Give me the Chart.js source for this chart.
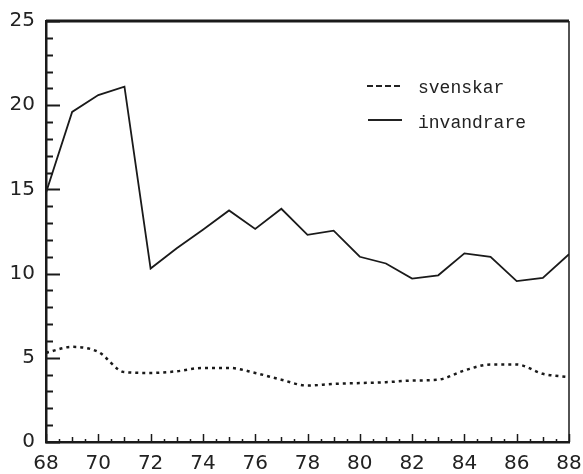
<!DOCTYPE html>
<html>
<head>
<meta charset="utf-8">
<script src="https://cdn.jsdelivr.net/npm/chart.js@4/dist/chart.umd.min.js"></script>
<style>
  html,body{margin:0;padding:0;background:#fff;}
  #wrap{position:relative;width:583px;height:474px;}
  .leg{position:absolute;left:418px;font:18px "Liberation Mono",monospace;line-height:18px;color:#222;white-space:nowrap;}
  .sym{position:absolute;height:0;}
</style>
</head>
<body>
<div id="wrap">
  <canvas id="c" width="583" height="474"></canvas>
  <div class="sym" style="left:367px;top:85px;width:33px;border-top:2.5px dashed #222;"></div>
  <div class="leg" style="top:79px;">svenskar</div>
  <div class="sym" style="left:368px;top:119px;width:34px;border-top:2px solid #222;"></div>
  <div class="leg" style="top:114px;">invandrare</div>
</div>
<script>
const years = [68,69,70,71,72,73,74,75,76,77,78,79,80,81,82,83,84,85,86,87,88];
const svenskar = [5.3,5.65,5.35,4.15,4.1,4.2,4.4,4.4,4.1,3.7,3.35,3.45,3.5,3.55,3.65,3.7,4.25,4.6,4.6,4.05,3.85];
const invandrare = [14.8,19.6,20.6,21.1,10.3,11.5,12.6,13.75,12.65,13.85,12.3,12.55,11.0,10.6,9.7,9.9,11.2,11.0,9.55,9.75,11.15];
const yTicks = {min:0, max:25, major:5, minor:1};
const xTicks = {min:68, max:88, major:2, minor:0.5};

const ink = '#1a1a1a';

// ticks drawn inside the plot, frame on top and right
const frame = {
  id:'frame',
  afterDraw(chart){
    const {ctx, chartArea:a, scales:{x,y}} = chart;
    ctx.save();
    ctx.strokeStyle = ink;
    ctx.lineWidth = 2;
    for(let v=yTicks.min; v<=yTicks.max; v+=yTicks.minor){
      const py = Math.round(y.getPixelForValue(v))+0.5;
      const len = v % yTicks.major === 0 ? 14 : 7;
      ctx.beginPath(); ctx.moveTo(a.left, py); ctx.lineTo(a.left+len, py); ctx.stroke();
    }
    ctx.lineWidth = 1.5;
    for(let v=xTicks.min; v<=xTicks.max; v+=xTicks.minor){
      const px = Math.round(x.getPixelForValue(v))+0.5;
      const len = v % xTicks.major === 0 ? 8 : (v % 1 === 0 ? 5 : 3);
      ctx.beginPath(); ctx.moveTo(px, a.bottom); ctx.lineTo(px, a.bottom-len); ctx.stroke();
    }
    ctx.lineWidth = 3;
    ctx.beginPath(); ctx.moveTo(a.left, a.top); ctx.lineTo(a.right, a.top); ctx.stroke();
    ctx.lineWidth = 1.5;
    ctx.beginPath(); ctx.moveTo(a.right, a.top); ctx.lineTo(a.right, a.bottom); ctx.stroke();
    ctx.restore();
  }
};

new Chart(document.getElementById('c'), {
  type:'line',
  data:{
    datasets:[
      {label:'svenskar', data:years.map((yr,i)=>({x:yr,y:svenskar[i]})), borderColor:ink, borderWidth:2.5,
       borderDash:[3,4], tension:0.4, cubicInterpolationMode:'monotone', pointRadius:0},
      {label:'invandrare', data:years.map((yr,i)=>({x:yr,y:invandrare[i]})), borderColor:ink, borderWidth:1.8,
       tension:0, pointRadius:0}
    ]
  },
  options:{
    responsive:false,
    animation:false,
    layout:{padding:{top:21,right:14,left:0,bottom:0}},
    plugins:{legend:{display:false}, tooltip:{enabled:false}},
    scales:{
      x:{type:'linear', min:xTicks.min, max:xTicks.max,
         afterFit:s=>{s.height=32; s.paddingLeft=0; s.paddingRight=0;},
         grid:{display:false, drawTicks:false},
         border:{display:true, color:ink, width:2.5},
         ticks:{stepSize:xTicks.major, padding:10, color:'#222', font:{family:'DejaVu Sans', size:20}}},
      y:{min:yTicks.min, max:yTicks.max,
         afterFit:s=>{s.width=46; s.paddingTop=0; s.paddingBottom=0;},
         grid:{display:false, drawTicks:false},
         border:{display:true, color:ink, width:2.5},
         ticks:{stepSize:yTicks.major, padding:11, color:'#222', font:{family:'DejaVu Sans', size:20}}}
    }
  },
  plugins:[frame]
});
</script>
</body>
</html>
